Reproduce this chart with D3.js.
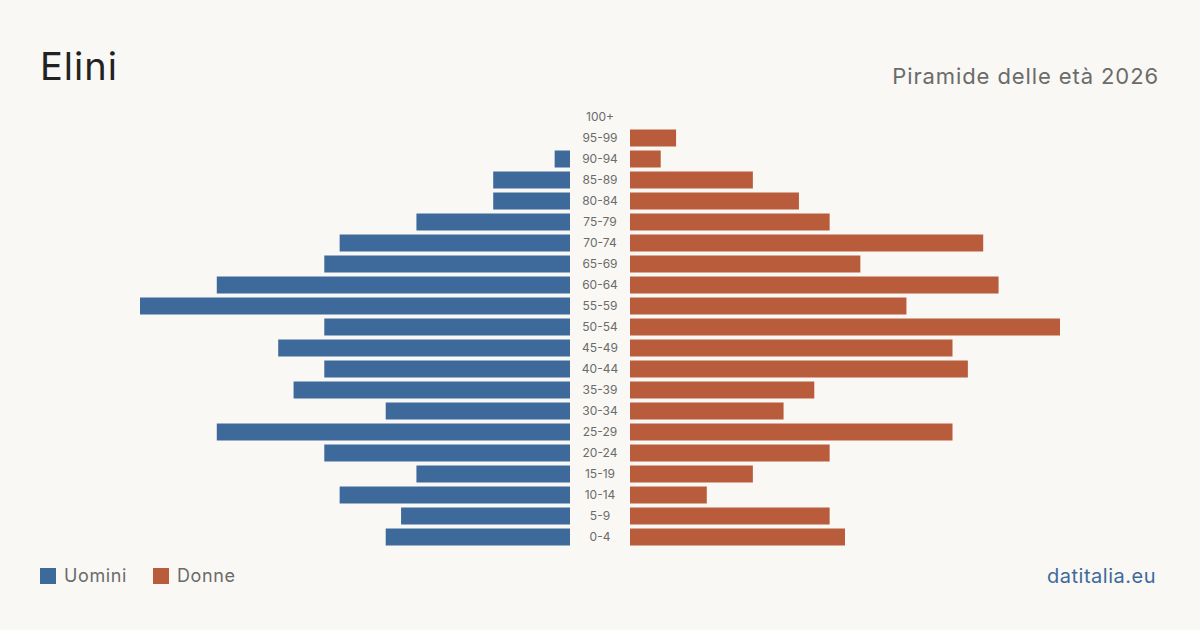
<!DOCTYPE html>
<html>
<head>
<meta charset="utf-8">
<script src="https://cdn.jsdelivr.net/npm/d3@7"></script>
<style>
  body { margin: 0; background: #f9f8f4; }
  svg { display: block; font-family: Inter, "Open Sans", sans-serif; }
</style>
</head>
<body>
<svg id="chart" width="1200" height="630"></svg>
<script>
// age classes, top to bottom
var ageGroups = ["100+","95-99","90-94","85-89","80-84","75-79","70-74","65-69","60-64","55-59",
                 "50-54","45-49","40-44","35-39","30-34","25-29","20-24","15-19","10-14","5-9","0-4"];
var maleValues   = [0,0,1,5,5,10,15,16,23,28,16,19,16,18,12,23,16,10,15,11,12];
var femaleValues = [0,3,2,8,11,13,23,15,24,18,28,21,22,12,10,21,13,8,5,13,14];

var legendLabels = ["Uomini", "Donne"];
var COLOR_M = "#3d6a9b", COLOR_F = "#b95c3b";

var svg = d3.select("#chart");
svg.append("rect").attr("width", 1200).attr("height", 630).attr("fill", "#f9f8f4");

var CENTER_LEFT = 570, CENTER_RIGHT = 630, HALF_W = 430;

var maxVal = d3.max(maleValues.concat(femaleValues));
var xLen = d3.scaleLinear().domain([0, maxVal]).range([0, HALF_W]);

var y = d3.scaleBand()
    .domain(ageGroups)
    .range([106.5, 547.5])
    .paddingInner(4/21)
    .paddingOuter(2/21);

// male bars (grow to the left)
svg.selectAll("rect.male")
    .data(ageGroups)
    .enter().append("rect")
    .attr("class", "male")
    .attr("x", function(d,i){ return CENTER_LEFT - xLen(maleValues[i]); })
    .attr("y", function(d){ return y(d); })
    .attr("width", function(d,i){ return xLen(maleValues[i]); })
    .attr("height", y.bandwidth())
    .attr("fill", COLOR_M);

// female bars (grow to the right)
svg.selectAll("rect.female")
    .data(ageGroups)
    .enter().append("rect")
    .attr("class", "female")
    .attr("x", CENTER_RIGHT)
    .attr("y", function(d){ return y(d); })
    .attr("width", function(d,i){ return xLen(femaleValues[i]); })
    .attr("height", y.bandwidth())
    .attr("fill", COLOR_F);

// age labels in the middle
svg.selectAll("text.age")
    .data(ageGroups)
    .enter().append("text")
    .attr("class", "age")
    .attr("x", (CENTER_LEFT + CENTER_RIGHT) / 2)
    .attr("y", function(d){ return y(d) + y.bandwidth() / 2; })
    .attr("dy", "0.35em")
    .attr("text-anchor", "middle")
    .attr("font-size", 12)
    .attr("fill", "#6b6b6b")
    .text(function(d){ return d; });

// title + subtitle
svg.append("text").attr("x", 40).attr("y", 80)
    .attr("font-size", 38).attr("letter-spacing", 1).attr("fill", "#222").text("Elini");
svg.append("text").attr("x", 1159).attr("y", 84)
    .attr("text-anchor", "end").attr("font-size", 22).attr("letter-spacing", 0.9)
    .attr("fill", "#6b6b6b")
    .text("Piramide delle età 2026");

// legend
var legend = svg.selectAll("g.legend")
    .data(legendLabels)
    .enter().append("g")
    .attr("class", "legend")
    .attr("transform", function(d,i){ return "translate(" + (40 + i * 113) + ",568)"; });
legend.append("rect").attr("width", 16).attr("height", 16)
    .attr("fill", function(d,i){ return i == 0 ? COLOR_M : COLOR_F; });
legend.append("text").attr("x", 24).attr("y", 8).attr("dy", "0.35em")
    .attr("font-size", 18).attr("letter-spacing", 0.6).attr("fill", "#6b6b6b")
    .text(function(d){ return d; });

svg.append("text").attr("x", 1156).attr("y", 583)
    .attr("text-anchor", "end").attr("font-size", 20).attr("letter-spacing", 0.5)
    .attr("fill", COLOR_M)
    .text("datitalia.eu");
</script>
</body>
</html>
